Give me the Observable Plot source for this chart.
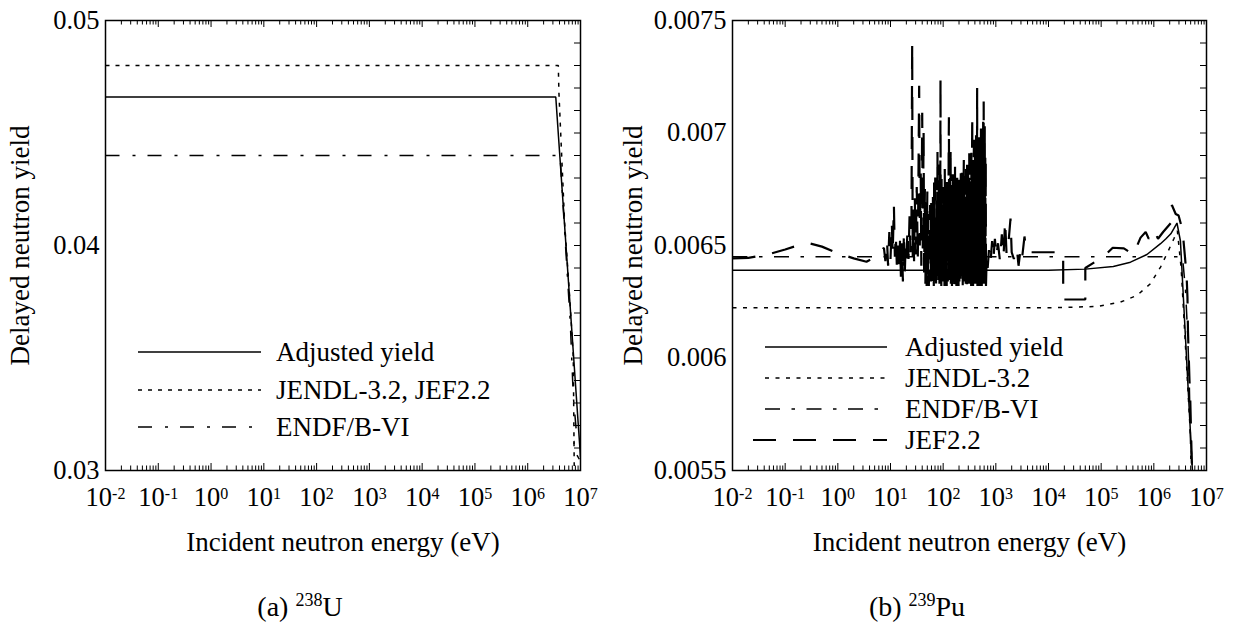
<!DOCTYPE html>
<html><head><meta charset="utf-8">
<script src="https://cdn.jsdelivr.net/npm/d3@7"></script>
<script src="https://cdn.jsdelivr.net/npm/@observablehq/plot@0.6"></script>
<style>
body{margin:0;background:#fff;}
#wrap{display:flex;width:1240px;height:625px;}
.panel{position:relative;width:620px;height:625px;}
.cap{position:absolute;top:592px;left:0;text-align:center;font-family:"Liberation Serif","Times New Roman",serif;font-size:28px;line-height:30px;color:#000;white-space:nowrap;}
.cap sup{font-size:18px;position:relative;top:-0.55em;vertical-align:baseline;line-height:0;}
</style></head><body>
<div id="wrap">
  <div class="panel" id="pa"><div class="cap" style="width:600px">(a) <sup>238</sup>U</div></div>
  <div class="panel" id="pb"><div class="cap" style="width:594px">(b) <sup>239</sup>Pu</div></div>
</div>
<script>
// ---------- axis / tick data ----------
const xTickExps = [-2, -1, 0, 1, 2, 3, 4, 5, 6, 7];
const xMinorMult = [2, 3, 4, 5, 6, 7, 8, 9];
const xTitle = "Incident neutron energy (eV)";
const yTitle = "Delayed neutron yield";

const yLabelsU = [0.03, 0.04, 0.05];
const yMinorU = [0.030, 0.031, 0.032, 0.033, 0.034, 0.035, 0.036, 0.037, 0.038, 0.039, 0.040,
                 0.041, 0.042, 0.043, 0.044, 0.045, 0.046, 0.047, 0.048, 0.049, 0.050];
const yLabelsPu = [0.0055, 0.006, 0.0065, 0.007, 0.0075];
const yMinorPu = [0.0055, 0.0056, 0.0057, 0.0058, 0.0059, 0.0060, 0.0061, 0.0062, 0.0063, 0.0064, 0.0065,
                  0.0066, 0.0067, 0.0068, 0.0069, 0.0070, 0.0071, 0.0072, 0.0073, 0.0074, 0.0075];

// ---------- (a) U-238 : [energy eV, yield] ----------
const legendU = ["Adjusted yield", "JENDL-3.2, JEF2.2", "ENDF/B-VI"];
const adjU = [[1e-2, 0.0466], [3.4e6, 0.0466], [1e7, 0.0306]];
const jendlU = [[1e-2, 0.0480], [3.8e6, 0.0480], [3.9e6, 0.0468], [5e6, 0.0410], [6e6, 0.0383], [7e6, 0.0358],
                [7.3e6, 0.0350], [7.45e6, 0.0326], [7.6e6, 0.0302]];
const endfU = [[1e-2, 0.0440], [4.1e6, 0.0440], [5.2e6, 0.0400], [6.4e6, 0.0366], [7.1e6, 0.0340], [7.3e6, 0.0333],
               [8.3e6, 0.0318], [7.5e6, 0.0316], [7.6e6, 0.0309], [9.5e6, 0.0305]];

// ---------- (b) Pu-239 : [energy eV, yield] ----------
const legendPu = ["Adjusted yield", "JENDL-3.2", "ENDF/B-VI", "JEF2.2"];
const adjPu = [[1e-2, 0.00639], [1e4, 0.00639], [5e4, 0.006395], [1.7e5, 0.006407], [3.6e5, 0.006426], [7.4e5, 0.00646],
               [1.34e6, 0.006508], [1.7e6, 0.00653], [2.1e6, 0.006552], [2.4e6, 0.006575], [2.75e6, 0.0066],
               [3.2e6, 0.00652], [5.4e6, 0.0055]];
const jendlPu = [[1e-2, 0.006223], [1e4, 0.006223], [8.3e4, 0.006229], [2.3e5, 0.006248], [4.8e5, 0.006278],
                 [8.6e5, 0.00633], [1.34e6, 0.006404], [1.9e6, 0.006478], [2.4e6, 0.00653], [2.8e6, 0.006565],
                 [3.3e6, 0.0064], [5.4e6, 0.0055]];
const endfPu = [[1e-2, 0.00645], [3.5e6, 0.00645], [4.0e6, 0.0063], [4.4e6, 0.0061], [4.7e6, 0.0059], [5.1e6, 0.0055]];
// JEF2.2: thermal range
const jefThermal = [[1e-2, 0.006443], [2e-2, 0.006445], [5e-2, 0.006462], [0.1, 0.006482], [0.2, 0.006505],
  [0.3, 0.006509], [0.5, 0.006495], [1, 0.006465], [2, 0.006443], [3.5, 0.006428], [6, 0.006458]];
// JEF2.2: low resonances 7.5 - 54 eV
const jefResLow = [[7.5, 0.00649], [8.0, 0.00643], [8.6, 0.00652], [9.0, 0.00641], [9.5, 0.00656], [10.0, 0.00644],
  [10.6, 0.00660], [11.0, 0.00646], [11.6, 0.00668], [12.1, 0.00645], [12.6, 0.00655], [13.2, 0.00641],
  [13.8, 0.00650], [14.5, 0.00638], [15.2, 0.00653], [15.8, 0.00635], [16.5, 0.00651], [17.2, 0.00634],
  [18.0, 0.00656], [18.6, 0.00636], [19.3, 0.00649], [20.0, 0.00643], [21.0, 0.00657], [22.0, 0.00644],
  [23.0, 0.00663], [24.0, 0.00647], [25.0, 0.00660], [25.8, 0.00740], [26.4, 0.00645], [27.2, 0.00666],
  [28.0, 0.00643], [29.0, 0.00671], [30.0, 0.00646], [31.5, 0.00676], [33.0, 0.00644], [35.0, 0.00721],
  [36.0, 0.00650], [37.5, 0.00682], [38.5, 0.00641], [40.0, 0.00709], [41.0, 0.00645], [42.5, 0.00701],
  [43.5, 0.00638], [45.0, 0.00676], [46.0, 0.00633], [47.5, 0.00669], [48.5, 0.00632], [50.0, 0.00674],
  [51.0, 0.00634], [52.5, 0.00664], [53.5, 0.00632]];
// JEF2.2: dense resonances 55 - 100 eV
const jefResA = [[55, 0.00660], [55.7, 0.00634], [56.4, 0.00668], [57.1, 0.00639], [57.8, 0.00652], [58.5, 0.00632],
  [59.2, 0.00671], [60, 0.00641], [60.8, 0.00658], [61.6, 0.00633], [62.4, 0.00666], [63.2, 0.00644],
  [64, 0.00675], [64.8, 0.00635], [65.6, 0.00655], [66.4, 0.00632], [67.2, 0.00678], [68, 0.00640],
  [68.9, 0.00661], [69.8, 0.00633], [70.7, 0.00684], [71.6, 0.00638], [72.5, 0.00664], [73.4, 0.00632],
  [74.3, 0.00672], [75.2, 0.00643], [76.1, 0.00658], [77, 0.00634], [78, 0.00692], [79, 0.00637],
  [80, 0.00667], [81, 0.00632], [82, 0.00679], [83, 0.00641], [84, 0.00660], [85, 0.00633],
  [86, 0.00686], [87, 0.00638], [88, 0.00670], [89, 0.00724], [90, 0.00635], [91.1, 0.00665],
  [92.2, 0.00632], [93.3, 0.00681], [94.4, 0.00640], [95.5, 0.00659], [96.6, 0.00633], [97.7, 0.00676],
  [98.8, 0.00637], [100, 0.00668]];
// JEF2.2: dense resonances 100 - 200 eV
const jefResB = [[101.2, 0.00634], [102.4, 0.00673], [103.6, 0.00639], [104.8, 0.00662], [106, 0.00632],
  [107.3, 0.00684], [108.6, 0.00641], [109.9, 0.00666], [111.2, 0.00633], [112.5, 0.00677], [113.9, 0.00637],
  [115.3, 0.00659], [116.7, 0.00632], [118.1, 0.00680], [119.5, 0.00643], [121, 0.00668], [122.5, 0.00634],
  [124, 0.00674], [125.5, 0.00638], [127, 0.00689], [128.6, 0.00707], [130.2, 0.00635], [131.8, 0.00671],
  [133.4, 0.00632], [135, 0.00680], [136.7, 0.00640], [138.4, 0.00694], [140.1, 0.00633], [141.8, 0.00667],
  [143.5, 0.00638], [145.3, 0.00678], [147.1, 0.00632], [148.9, 0.00662], [150.7, 0.00642], [152.5, 0.00683],
  [154.4, 0.00634], [156.3, 0.00670], [158.2, 0.00637], [160.1, 0.00676], [162, 0.00632], [164, 0.00664],
  [166, 0.00641], [168, 0.00685], [170, 0.00633], [172, 0.00669], [174.1, 0.00636], [176.2, 0.00679],
  [178.3, 0.00632], [180.4, 0.00661], [182.5, 0.00639], [184.7, 0.00682], [186.9, 0.00633], [189.1, 0.00672],
  [191.3, 0.00637], [193.5, 0.00667], [195.8, 0.00632], [198.1, 0.00675], [200.4, 0.00680]];
// JEF2.2: dense resonances 200 - 650 eV
const jefResC = [[203, 0.00634], [205.6, 0.00676], [208.2, 0.00638], [210.8, 0.00668], [213.4, 0.00632],
  [216, 0.00683], [218.7, 0.00641], [221.4, 0.00671], [224.1, 0.00633], [226.8, 0.00686], [229.6, 0.00637],
  [232.4, 0.00665], [235.2, 0.00632], [238, 0.00679], [240.9, 0.00640], [243.8, 0.00674], [246.7, 0.00688],
  [249.7, 0.00634], [252.7, 0.00670], [255.7, 0.00632], [258.8, 0.00681], [261.9, 0.00639], [265, 0.00668],
  [268.2, 0.00633], [271.4, 0.00684], [274.6, 0.00637], [277.9, 0.00676], [281.2, 0.00632], [284.6, 0.00689],
  [288, 0.00641], [291.4, 0.00672], [294.9, 0.00633], [298.4, 0.00685], [302, 0.00638], [305.6, 0.00678],
  [309.2, 0.00632], [312.9, 0.00691], [316.6, 0.00640], [320.4, 0.00674], [324.2, 0.00633], [328.1, 0.00687],
  [332, 0.00636], [336, 0.00680], [340, 0.00632], [344, 0.00694], [348.1, 0.00639], [352.3, 0.00683],
  [356.5, 0.00708], [360.8, 0.00634], [365.1, 0.00688], [369.5, 0.00632], [373.9, 0.00679], [378.4, 0.00638],
  [382.9, 0.00697], [387.5, 0.00633], [392.1, 0.00686], [396.8, 0.00641], [401.5, 0.00692], [406.3, 0.00632],
  [411.2, 0.00681], [416.1, 0.00637], [421.1, 0.00699], [426.1, 0.00633], [431.2, 0.00688], [436.4, 0.00640],
  [441.6, 0.00720], [446.9, 0.00632], [452.3, 0.00694], [457.7, 0.00636], [463.2, 0.00686], [468.8, 0.00633],
  [474.4, 0.00701], [480.1, 0.00639], [485.9, 0.00690], [491.7, 0.00632], [497.6, 0.00697], [503.6, 0.00637],
  [509.6, 0.00688], [515.7, 0.00633], [521.9, 0.00702], [528.2, 0.00640], [534.5, 0.00693], [540.9, 0.00632],
  [547.4, 0.00700], [554, 0.00636], [560.6, 0.00691], [567.3, 0.00633], [574.1, 0.00705], [581, 0.00638],
  [588, 0.00714], [595, 0.00632], [602, 0.00698], [609, 0.00637], [616, 0.00703], [623, 0.00633],
  [630, 0.00692], [637, 0.00636], [644, 0.00688], [650, 0.00632]];
// JEF2.2: unresolved range and fast region
const jefFast = [[670, 0.00645], [700, 0.00640], [740, 0.00648], [790, 0.00642], [850, 0.00652], [900, 0.00644],
  [960, 0.00653], [1020, 0.00645], [1100, 0.00651], [1200, 0.00643], [1300, 0.00655], [1400, 0.00645],
  [1500, 0.00661], [1600, 0.00646], [1750, 0.00652], [1900, 0.00662], [2000, 0.00647], [2200, 0.00644],
  [2500, 0.00649], [2700, 0.00641], [2900, 0.00647], [3100, 0.00643], [3500, 0.00654], [3800, 0.00647],
  [1.9e4, 0.00647], [1.9e4, 0.00626], [5e4, 0.00626], [5e4, 0.00640], [8e4, 0.00643], [1.0e5, 0.00644],
  [1.66e5, 0.00649], [2.7e5, 0.006487], [4.1e5, 0.00646], [5.6e5, 0.006535], [7e5, 0.00656], [8e5, 0.00653],
  [1e6, 0.00657], [1.2e6, 0.00653], [1.5e6, 0.00656], [2.1e6, 0.00660], [2.2e6, 0.00668], [2.6e6, 0.00664],
  [2.95e6, 0.006633], [3.5e6, 0.00657], [3.9e6, 0.00645], [4.2e6, 0.00636], [4.35e6, 0.00627], [4.45e6, 0.00612],
  [4.6e6, 0.00601], [4.75e6, 0.00590], [4.9e6, 0.00583], [5.3e6, 0.0055]];
const jefPu = [...jefThermal, ...jefResLow, ...jefResA, ...jefResB, ...jefResC, ...jefFast];

// ---------- helpers ----------
const FONT = '"Liberation Serif", "Times New Roman", serif';
const rows = (P) => P.map(([e, v]) => ({E: e, v}));
const xMajor = xTickExps.map(e => 10 ** e);
const xMinor = xTickExps.slice(0, -1).flatMap(e => xMinorMult.map(m => m * 10 ** e));

function makePanel({el, yDomain, yLabels, yMinor, series, legend, ml, mr, yTitleDx}) {
  const W = 620, H = 570, mt = 20, mb = 100;
  const fw = W - ml - mr, fh = H - mt - mb;
  const marks = [];
  for (const s of series) {
    marks.push(Plot.line(rows(s.data), {x: "E", y: "v", stroke: "black", strokeWidth: s.w,
      strokeDasharray: s.dash, clip: true, strokeLinecap: "butt", strokeLinejoin: "miter"}));
  }
  marks.push(
    Plot.tickX(xMajor, {x: d => d, insetTop: fh - 7, stroke: "black", strokeWidth: 1}),
    Plot.tickX(xMajor, {x: d => d, insetBottom: fh - 7, stroke: "black", strokeWidth: 1}),
    Plot.tickX(xMinor, {x: d => d, insetTop: fh - 4.5, stroke: "black", strokeWidth: 1}),
    Plot.tickX(xMinor, {x: d => d, insetBottom: fh - 4.5, stroke: "black", strokeWidth: 1}),
    Plot.tickY(yMinor, {y: d => d, insetLeft: fw - 6, stroke: "black", strokeWidth: 1}),
    Plot.frame({stroke: "black", strokeWidth: 1.5}),
    Plot.axisY(yLabels, {tickSize: 0, tickPadding: 6, fontSize: 26.5, label: null, tickFormat: d => String(d)}),
    Plot.axisX(xMajor, {tickSize: 0, tickPadding: 17, fontSize: 26.5, label: null,
      tickFormat: d => String(xTickExps[xMajor.indexOf(d)])}),
    Plot.text([xTitle], {frameAnchor: "bottom", lineAnchor: "middle", dy: 72, fontSize: 27, fill: "black"}),
    Plot.text([yTitle], {frameAnchor: "left", textAnchor: "middle", lineAnchor: "middle", rotate: -90,
      dx: yTitleDx, fontSize: 27, fill: "black"})
  );
  const plot = Plot.plot({
    width: W, height: H, marginTop: mt, marginBottom: mb, marginLeft: ml, marginRight: mr,
    x: {type: "log", domain: [1e-2, 1e7], label: null},
    y: {domain: yDomain, label: null},
    style: {fontFamily: FONT, fontSize: "26px", color: "black", background: "white", overflow: "visible"},
    marks
  });
  const svg = d3.select(plot);
  svg.selectAll('g[aria-label="x-axis tick label"] text').each(function () {
    const t = d3.select(this);
    const e = t.text();
    t.text(null);
    t.append("tspan").text("10");
    t.append("tspan").attr("dy", "-0.45em").attr("font-size", "16px").text(e);
  });
  // legend
  const g = svg.append("g").attr("font-family", FONT).attr("font-size", 27).attr("fill", "black")
    .attr("text-anchor", "start");
  legend.items.forEach((txt, i) => {
    const s = series[i];
    const y = legend.ys[i];
    g.append("line").attr("x1", legend.x1[i]).attr("x2", legend.x2).attr("y1", y).attr("y2", y)
      .attr("stroke", "black").attr("stroke-width", s.w).attr("stroke-dasharray", s.dash || null);
    g.append("text").attr("x", legend.tx).attr("y", y).attr("dy", "0.34em").text(txt);
  });
  document.getElementById(el).prepend(plot);
}

makePanel({
  el: "pa", yDomain: [0.03, 0.05], yLabels: yLabelsU, yMinor: yMinorU, ml: 105, mr: 40, yTitleDx: -85,
  series: [
    {data: adjU, w: 1.5, dash: null},
    {data: jendlU, w: 1.5, dash: "4,6"},
    {data: endfU, w: 1.5, dash: "14,13,3,12"}
  ],
  legend: {items: legendU, ys: [352, 390, 427], x1: [138, 138, 138], x2: 261, tx: 276}
});

makePanel({
  el: "pb", yDomain: [0.0055, 0.0075], yLabels: yLabelsPu, yMinor: yMinorPu, ml: 112, mr: 34, yTitleDx: -99,
  series: [
    {data: adjPu, w: 1.5, dash: null},
    {data: jendlPu, w: 1.5, dash: "4,6.5"},
    {data: endfPu, w: 1.5, dash: "15,11.5,3.5,11.5"},
    {data: jefPu, w: 2.2, dash: "23,17"}
  ],
  legend: {items: legendPu, ys: [347, 378, 409, 440], x1: [145, 145, 145, 133], x2: 267, tx: 285}
});
</script>
</body></html>
